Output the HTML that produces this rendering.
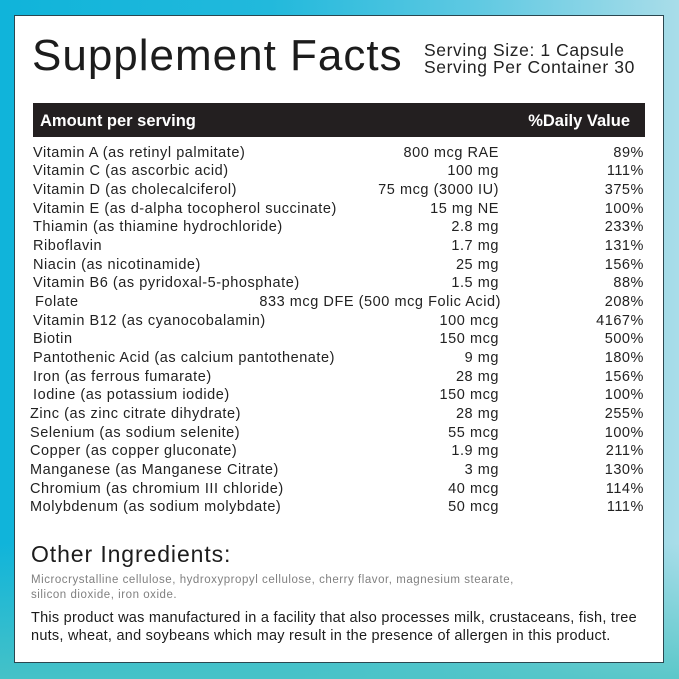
<!DOCTYPE html>
<html><head><meta charset="utf-8">
<style>
html,body{margin:0;padding:0;}
body{width:679px;height:679px;position:relative;overflow:hidden;
background:linear-gradient(180deg,rgba(0,0,0,0) 0%,rgba(0,0,0,0) 80%,rgba(78,196,196,0.85) 100%),
linear-gradient(90deg,#10b4da 0%,#22b9dc 40%,#5fc9e2 70%,#a9dde9 100%);
font-family:"Liberation Sans",sans-serif;color:#1e1e1e;}
.panel{position:absolute;left:14px;top:15px;width:648px;height:646px;background:#fff;border:1px solid #2b4750;}
.abs{position:absolute;white-space:nowrap;}
.title{left:32px;top:34px;font-size:44px;line-height:44px;letter-spacing:1px;color:#1c1c1c;}
.serv{left:424px;top:42px;font-size:17.5px;line-height:17.3px;letter-spacing:0.6px;color:#222;}
.bar{left:33px;top:103px;width:612px;height:34px;background:#231f20;}
.bh{color:#fff;font-weight:bold;font-size:16.5px;line-height:16.5px;top:113px;}
.rows{position:absolute;left:0;top:143.6px;width:679px;}
.row{position:relative;height:18.68px;line-height:18.68px;font-size:14.5px;letter-spacing:0.55px;color:#222;white-space:nowrap;}
.row .n{position:absolute;left:33px;}
.row .a{position:absolute;right:180px;}
.row .p{position:absolute;right:35px;}
.oi{left:31px;top:542.5px;font-size:23px;line-height:23px;letter-spacing:0.9px;color:#1c1c1c;}
.mc{left:31px;top:572.5px;font-size:11.5px;line-height:15px;letter-spacing:0.54px;color:#808080;}
.al{left:31px;top:609px;font-size:14.5px;line-height:18px;letter-spacing:0.25px;color:#1c1c1c;}
</style></head><body>
<div class="panel"></div>
<div class="abs title">Supplement Facts</div>
<div class="abs serv">Serving Size: 1 Capsule<br>Serving Per Container 30</div>
<div class="abs bar"></div>
<div class="abs bh" style="left:40px;">Amount per serving</div>
<div class="abs bh" style="right:49px;">%Daily Value</div>
<div class="rows">
<div class="row"><span class="n">Vitamin A (as retinyl palmitate)</span><span class="a">800 mcg RAE</span><span class="p">89%</span></div>
<div class="row"><span class="n">Vitamin C (as ascorbic acid)</span><span class="a">100 mg</span><span class="p">111%</span></div>
<div class="row"><span class="n">Vitamin D (as cholecalciferol)</span><span class="a">75 mcg (3000 IU)</span><span class="p">375%</span></div>
<div class="row"><span class="n">Vitamin E (as d-alpha tocopherol succinate)</span><span class="a">15 mg NE</span><span class="p">100%</span></div>
<div class="row"><span class="n">Thiamin (as thiamine hydrochloride)</span><span class="a">2.8 mg</span><span class="p">233%</span></div>
<div class="row"><span class="n">Riboflavin</span><span class="a">1.7 mg</span><span class="p">131%</span></div>
<div class="row"><span class="n">Niacin (as nicotinamide)</span><span class="a">25 mg</span><span class="p">156%</span></div>
<div class="row"><span class="n">Vitamin B6 (as pyridoxal-5-phosphate)</span><span class="a">1.5 mg</span><span class="p">88%</span></div>
<div class="row"><span class="n" style="left:35px">Folate</span><span class="a" style="right:178px">833 mcg DFE (500 mcg Folic Acid)</span><span class="p">208%</span></div>
<div class="row"><span class="n">Vitamin B12 (as cyanocobalamin)</span><span class="a">100 mcg</span><span class="p">4167%</span></div>
<div class="row"><span class="n">Biotin</span><span class="a">150 mcg</span><span class="p">500%</span></div>
<div class="row"><span class="n">Pantothenic Acid (as calcium pantothenate)</span><span class="a">9 mg</span><span class="p">180%</span></div>
<div class="row"><span class="n">Iron (as ferrous fumarate)</span><span class="a">28 mg</span><span class="p">156%</span></div>
<div class="row"><span class="n">Iodine (as potassium iodide)</span><span class="a">150 mcg</span><span class="p">100%</span></div>
<div class="row"><span class="n" style="left:30px">Zinc (as zinc citrate dihydrate)</span><span class="a">28 mg</span><span class="p">255%</span></div>
<div class="row"><span class="n" style="left:30px">Selenium (as sodium selenite)</span><span class="a">55 mcg</span><span class="p">100%</span></div>
<div class="row"><span class="n" style="left:30px">Copper (as copper gluconate)</span><span class="a">1.9 mg</span><span class="p">211%</span></div>
<div class="row"><span class="n" style="left:30px">Manganese (as Manganese Citrate)</span><span class="a">3 mg</span><span class="p">130%</span></div>
<div class="row"><span class="n" style="left:30px">Chromium (as chromium III chloride)</span><span class="a">40 mcg</span><span class="p">114%</span></div>
<div class="row"><span class="n" style="left:30px">Molybdenum (as sodium molybdate)</span><span class="a">50 mcg</span><span class="p">111%</span></div>
</div>
<div class="abs oi">Other Ingredients:</div>
<div class="abs mc">Microcrystalline cellulose, hydroxypropyl cellulose, cherry flavor, magnesium stearate,<br>silicon dioxide, iron oxide.</div>
<div class="abs al">This product was manufactured in a facility that also processes milk, crustaceans, fish, tree<br>nuts, wheat, and soybeans which may result in the presence of allergen in this product.</div>
</body></html>
